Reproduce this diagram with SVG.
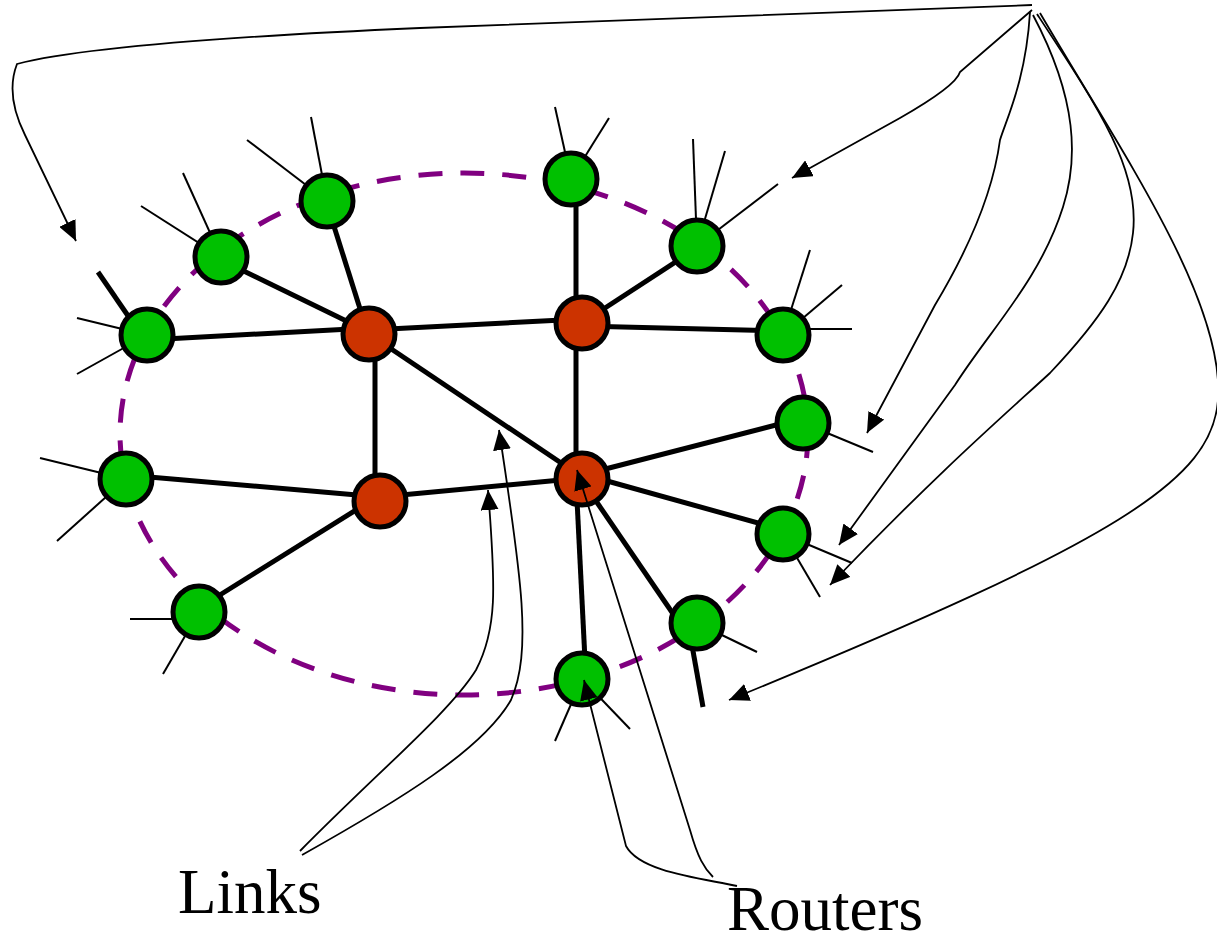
<svg xmlns="http://www.w3.org/2000/svg" width="1217" height="937" viewBox="0 0 1217 937">
<style>
.ring{fill:none;stroke:#800080;stroke-width:5;stroke-dasharray:24 18}
.link{stroke:#000;stroke-width:5;fill:none;stroke-linecap:butt}
.stub{stroke:#000;stroke-width:2;fill:none}
.conn{stroke:#000;stroke-width:1.8;fill:none;marker-end:url(#ah)}
.conn0{stroke:#000;stroke-width:1.8;fill:none}
.host{fill:#00C000;stroke:#000;stroke-width:5}
.router{fill:#CC3300;stroke:#000;stroke-width:5}
.lbl{font-family:"Liberation Serif","Times New Roman",serif;font-size:63px;fill:#000}
</style>
<defs>
<marker id="ah" markerUnits="userSpaceOnUse" viewBox="0 0 20 18" markerWidth="20" markerHeight="18" refX="20" refY="9" orient="auto">
<path d="M0,0 L20,9 L0,18 z" fill="#000"/>
</marker>
</defs>
<rect width="1217" height="937" fill="#fff"/>
<ellipse class="ring" cx="464" cy="434" rx="344" ry="261"/>
<g id="links">
<line class="link" x1="326" y1="201" x2="368" y2="334"/>
<line class="link" x1="221" y1="260" x2="369" y2="332"/>
<line class="link" x1="147" y1="340" x2="369" y2="328"/>
<line class="link" x1="369" y1="330" x2="582" y2="319"/>
<line class="link" x1="375" y1="334" x2="375" y2="501"/>
<line class="link" x1="369" y1="334" x2="582" y2="477"/>
<line class="link" x1="576" y1="179" x2="576" y2="479"/>
<line class="link" x1="582" y1="323" x2="697" y2="248"/>
<line class="link" x1="582" y1="326" x2="783" y2="331"/>
<line class="link" x1="380" y1="497" x2="582" y2="478"/>
<line class="link" x1="126" y1="475" x2="380" y2="497"/>
<line class="link" x1="199" y1="608" x2="380" y2="495"/>
<line class="link" x1="582" y1="475" x2="803" y2="418"/>
<line class="link" x1="582" y1="474" x2="783" y2="530"/>
<line class="link" x1="581" y1="479" x2="680" y2="624"/>
<line class="link" x1="576" y1="480" x2="586" y2="680"/>
<line class="link" x1="98" y1="272" x2="135" y2="326"/>
<line class="link" x1="688" y1="623" x2="703" y2="707"/>
<line class="stub" x1="327" y1="201" x2="311" y2="117"/>
<line class="stub" x1="327" y1="201" x2="247" y2="140"/>
<line class="stub" x1="221" y1="257" x2="183" y2="173"/>
<line class="stub" x1="221" y1="257" x2="141" y2="206"/>
<line class="stub" x1="147" y1="335" x2="77" y2="318"/>
<line class="stub" x1="147" y1="335" x2="77" y2="374"/>
<line class="stub" x1="126" y1="479" x2="40" y2="458"/>
<line class="stub" x1="126" y1="479" x2="57" y2="541"/>
<line class="stub" x1="199" y1="619" x2="130" y2="619"/>
<line class="stub" x1="199" y1="612" x2="163" y2="674"/>
<line class="stub" x1="571" y1="179" x2="555" y2="107"/>
<line class="stub" x1="571" y1="179" x2="609" y2="118"/>
<line class="stub" x1="697" y1="246" x2="693" y2="139"/>
<line class="stub" x1="697" y1="246" x2="725" y2="151"/>
<line class="stub" x1="697" y1="246" x2="778" y2="184"/>
<line class="stub" x1="783" y1="335" x2="810" y2="250"/>
<line class="stub" x1="783" y1="335" x2="842" y2="285"/>
<line class="stub" x1="783" y1="329" x2="852" y2="329"/>
<line class="stub" x1="803" y1="423" x2="873" y2="452"/>
<line class="stub" x1="783" y1="534" x2="852" y2="563"/>
<line class="stub" x1="783" y1="534" x2="820" y2="597"/>
<line class="stub" x1="697" y1="623" x2="757" y2="652"/>
<line class="stub" x1="582" y1="679" x2="555" y2="741"/>
<line class="stub" x1="582" y1="679" x2="630" y2="729"/>
</g>
<g id="hosts">
<circle id="h1" class="host" cx="327" cy="201" r="26"/>
<circle id="h2" class="host" cx="221" cy="257" r="26"/>
<circle id="h3" class="host" cx="147" cy="335" r="26"/>
<circle id="h4" class="host" cx="126" cy="479" r="26"/>
<circle id="h5" class="host" cx="199" cy="612" r="26"/>
<circle id="h6" class="host" cx="571" cy="179" r="26"/>
<circle id="h7" class="host" cx="697" cy="246" r="26"/>
<circle id="h8" class="host" cx="783" cy="335" r="26"/>
<circle id="h9" class="host" cx="803" cy="423" r="26"/>
<circle id="h10" class="host" cx="783" cy="534" r="26"/>
<circle id="h11" class="host" cx="697" cy="623" r="26"/>
<circle id="h12" class="host" cx="582" cy="679" r="26"/>
</g>
<g id="routers">
<circle id="r1" class="router" cx="369" cy="334" r="26"/>
<circle id="r2" class="router" cx="582" cy="323" r="26"/>
<circle id="r3" class="router" cx="582" cy="479" r="26"/>
<circle id="r4" class="router" cx="380" cy="501" r="26"/>
</g>
<g id="connectors">
<path class="conn" d="M1032,5 L420,28 Q100,42 17,64 Q5,95 25,135 L76,241"/>
<path class="conn" d="M1032,10 L960,72 Q956,86 900,118 L792,178"/>
<path class="conn" d="M1030,12 C1026,80 1006,120 1000,140 C992,200 962,260 935,305 L867,433"/>
<path class="conn" d="M1033,15 C1078,100 1078,160 1063,207 C1040,280 990,330 955,385 L839,545"/>
<path class="conn" d="M1037,14 C1100,110 1140,170 1133,233 C1128,280 1100,320 1050,373 C1010,410 940,470 830,585"/>
<path class="conn" d="M1040,13 C1120,150 1225,300 1218,400 C1212,480 1120,540 729,700"/>
<path class="conn" d="M300,851 C380,770 450,712 476,670 C497,630 496,590 488,490"/>
<path class="conn" d="M302,855 C400,800 482,750 511,700 C532,652 522,580 499,430"/>
<path class="conn" d="M713,877 C704,868 698,858 690,830 L577,470"/>
<path class="conn" d="M737,886 C700,878 640,872 626,846 L584,680"/>
</g>
<g id="labels">
<text class="lbl" x="178" y="913">Links</text>
<text class="lbl" x="727" y="930">Routers</text>
</g>
</svg>
